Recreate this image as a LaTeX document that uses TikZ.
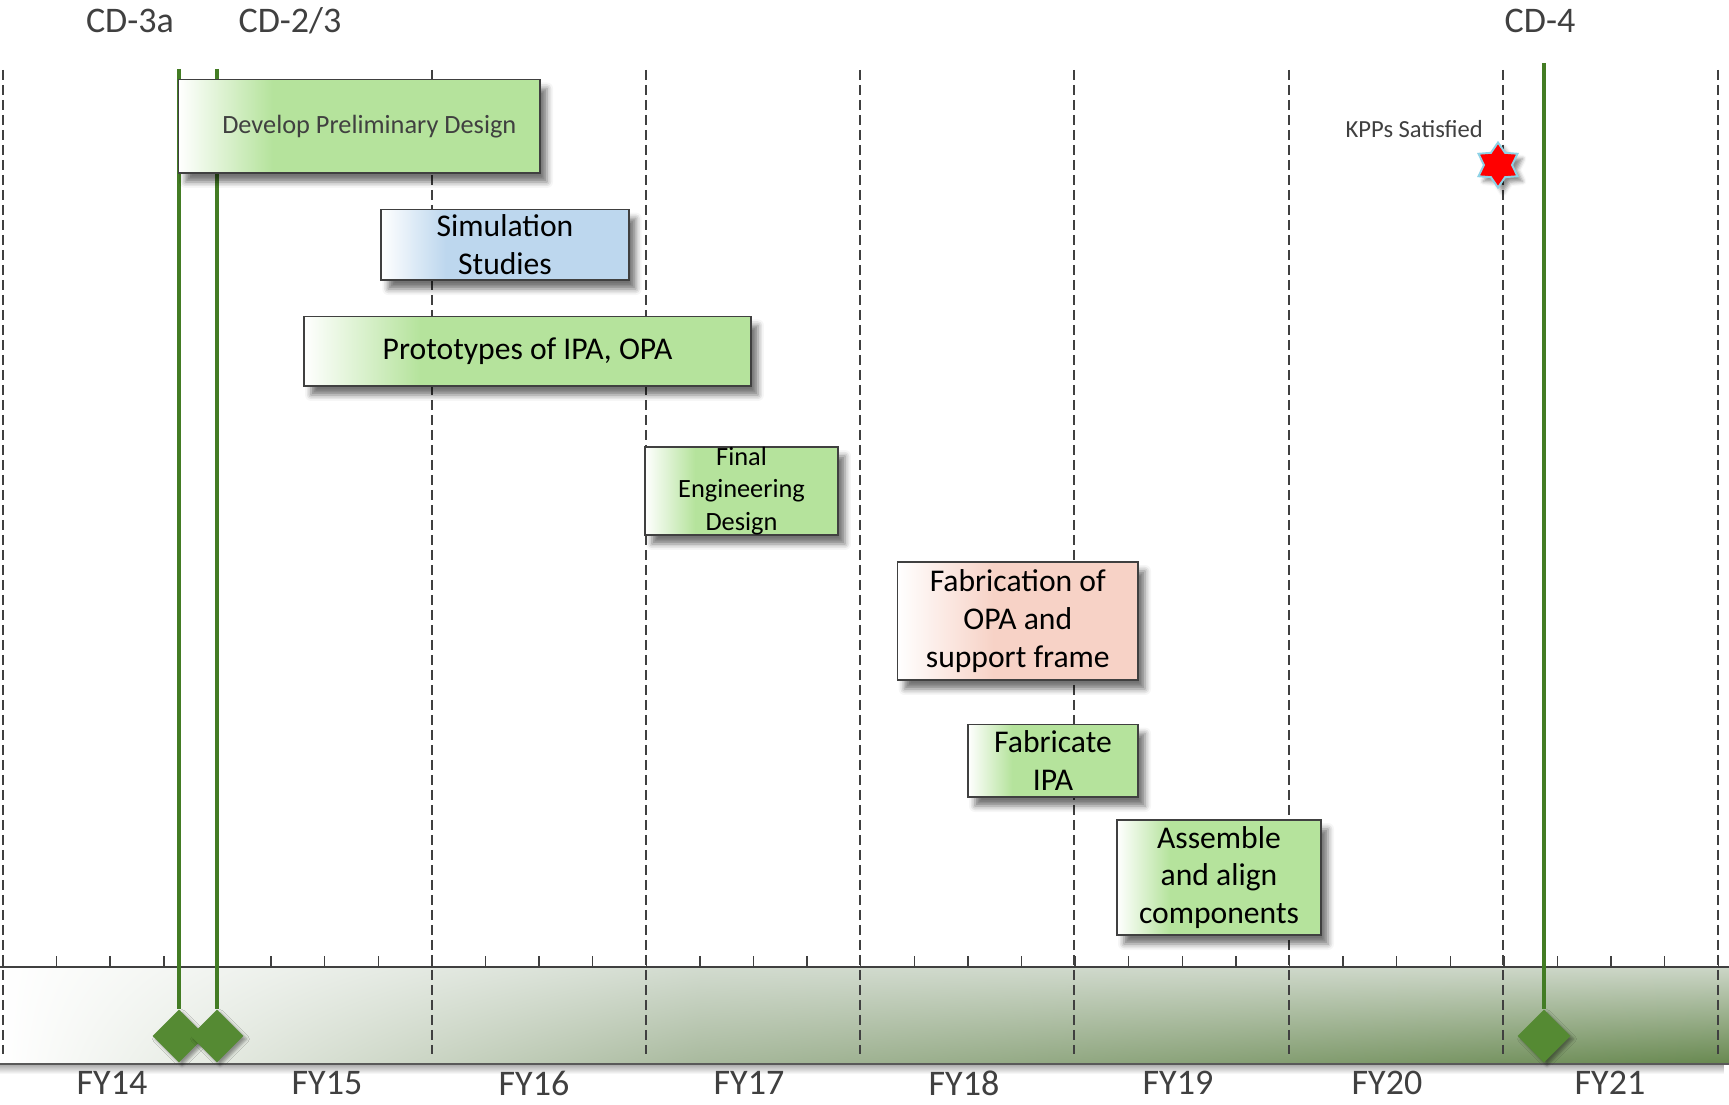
\documentclass[tikz,border=0pt]{standalone}
\usepackage{fontspec}
\setmainfont{Carlito}
\usepackage{xcolor}
\usepackage{tikz}
\usetikzlibrary{shapes.geometric, shadings, shadows.blur, fadings}
\definecolor{taskgreen}{HTML}{B5E39C}
\definecolor{taskblue}{HTML}{BDD7EE}
\definecolor{taskpink}{HTML}{F7D2C6}
\definecolor{msgreen}{HTML}{558A33}
\definecolor{mslinegreen}{HTML}{437C24}
\definecolor{labelgray}{HTML}{404040}
\definecolor{bandlight}{HTML}{D2DBCF}
\definecolor{bandmid}{HTML}{A8B99D}
\definecolor{bandtop}{HTML}{CCD6C7}
\definecolor{banddark}{HTML}{67884F}
\definecolor{starblue}{HTML}{8ED2E6}

\pgfdeclarehorizontalshading{greentask}{100bp}{color(0bp)=(white); color(25bp)=(white); color(38bp)=(taskgreen); color(100bp)=(taskgreen)}
\pgfdeclarehorizontalshading{bluetask}{100bp}{color(0bp)=(white); color(25bp)=(white); color(38bp)=(taskblue); color(100bp)=(taskblue)}
\pgfdeclarehorizontalshading{pinktask}{100bp}{color(0bp)=(white); color(25bp)=(white); color(45bp)=(taskpink); color(100bp)=(taskpink)}

\begin{document}
\begin{tikzpicture}[x=0.02cm, y=-0.02cm,
    task/.style={draw=black!75, line width=0.9pt, shade, inner sep=0pt, align=center, font=\fontsize{18}{21.5}\selectfont,
        blur shadow={shadow xshift=0.14cm, shadow yshift=-0.18cm, shadow blur radius=0.12cm, shadow opacity=55}},
    green task/.style={task, shading=greentask},
    blue task/.style={task, shading=bluetask},
    pink task/.style={task, shading=pinktask},
    yearline/.style={draw=labelgray, line width=1.6pt, dash pattern=on 0.2cm off 0.1cm},
    axisline/.style={draw=labelgray, line width=0.8pt},
    msline/.style={draw=mslinegreen, line width=2.5pt},
    milestone/.style={diamond, aspect=1, minimum size=1.06cm, inner sep=0pt, fill=msgreen,
        blur shadow={shadow xshift=0.06cm, shadow yshift=-0.06cm, shadow blur radius=0.06cm, shadow opacity=40}},
    cdlabel/.style={text=labelgray, font=\fontsize{20.5}{24}\selectfont},
    yearlabel/.style={text=labelgray, font=\fontsize{20.5}{24}\selectfont},
    kppstar/.style={star, star points=6, star point ratio=1.6, minimum size=0.9cm, inner sep=0pt, fill=red, draw=starblue, line width=1.1pt,
        blur shadow={shadow xshift=0.1cm, shadow yshift=-0.1cm, shadow blur radius=0.08cm, shadow opacity=45}}
]
\useasboundingbox (0,0) rectangle (1729,1105);

% timeline band
\shade[upper left=white, lower left=white, upper right=bandlight, lower right=bandmid] (0,967) rectangle (700,1064);
\shade[upper left=bandlight, lower left=bandmid, upper right=bandtop, lower right=banddark] (700,967) rectangle (1729,1064);
\fill[black, opacity=0.35, path fading=south] (0,1064) rectangle (1729,1074);
\draw[draw=black!65, line width=1.5pt] (0,1064) -- (1729,1064);
\draw[axisline] (0,967) -- (1729,967);
\foreach \k in {0,...,32}
    \draw[axisline] ({3+53.6*\k},967) -- ++(0,-11);

% year boundaries
\foreach \x in {3,432,646,860,1074,1289,1503,1718}
    \draw[yearline] (\x,70) -- (\x,1054);

% milestones
\node[milestone] (cd3a) at (179,1036) {};
\node[milestone] (cd23) at (217,1036) {};
\node[milestone] (cd4) at (1544,1036) {};
\coordinate (cd3a top) at (179,69);
\coordinate (cd23 top) at (217,69);
\coordinate (cd4 top) at (1544,63);
\draw[msline] (cd3a top) -- (cd3a.north);
\draw[msline] (cd23 top) -- (cd23.north);
\draw[msline] (cd4 top) -- (cd4.north);

\node[cdlabel] (cd3a label) at (130,21) {CD-3a};
\node[cdlabel] (cd23 label) at (290,21) {CD-2/3};
\node[cdlabel] (cd4 label) at (1540,21) {CD-4};

% tasks
\node[green task, text=labelgray, font=\fontsize{15}{18}\selectfont, minimum width=7.23cm, minimum height=1.87cm] (prelim) at (359.3,126.2) {\hspace*{0.4cm}Develop Preliminary Design};
\node[blue task, minimum width=4.95cm, minimum height=1.41cm] (sim) at (505,244.8) {Simulation\\Studies};
\node[green task, minimum width=8.94cm, minimum height=1.39cm] (proto) at (527.5,351.2) {Prototypes of IPA, OPA};
\node[green task, font=\fontsize{15}{18.5}\selectfont, minimum width=3.86cm, minimum height=1.74cm] (final) at (741.5,491) {Final\\Engineering\\Design};
\node[pink task, minimum width=4.81cm, minimum height=2.36cm] (fabopa) at (1017.8,621) {Fabrication of\\OPA and\\support frame};
\node[green task, minimum width=3.4cm, minimum height=1.45cm] (fabipa) at (1053,760.8) {Fabricate\\IPA};
\node[green task, minimum width=4.08cm, minimum height=2.3cm] (assemble) at (1219,877.5) {Assemble\\and align\\components};

% KPPs
\node[kppstar] (kpp star) at (1498,165) {};
\node[text=labelgray, font=\fontsize{14}{17}\selectfont, anchor=east] (kpp text) at (1489,129) {KPPs Satisfied};

% fiscal years
\foreach \x/\fy in {112/FY14, 327/FY15, 534/FY16, 749/FY17, 964/FY18, 1178/FY19, 1387/FY20, 1610/FY21}
    \node[yearlabel] (\fy) at (\x,1083) {\fy};
\end{tikzpicture}
\end{document}
